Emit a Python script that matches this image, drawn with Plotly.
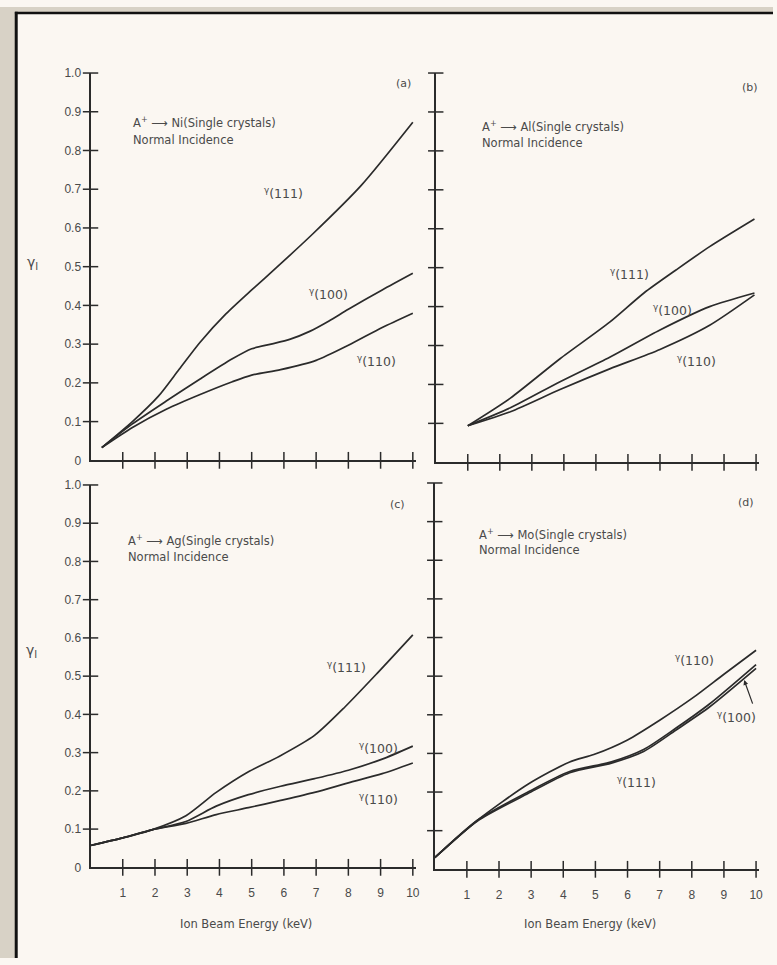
import plotly.graph_objects as go

W, H = 777, 965

# ---------------- data ----------------
energy_ticks = [1, 2, 3, 4, 5, 6, 7, 8, 9, 10]
energy_tick_labels = ["1", "2", "3", "4", "5", "6", "7", "8", "9", "10"]
gamma_ticks = [0.0, 0.1, 0.2, 0.3, 0.4, 0.5, 0.6, 0.7, 0.8, 0.9, 1.0]
gamma_tick_labels = ["0", "0.1", "0.2", "0.3", "0.4", "0.5", "0.6", "0.7", "0.8", "0.9", "1.0"]

# (a) A+ -> Ni
ni_e111 = [0.35, 1.3, 2.1, 2.75, 3.4, 4.2, 5.0, 5.8, 6.9, 8.4, 10.0]
ni_g111 = [0.033, 0.10, 0.165, 0.235, 0.305, 0.378, 0.44, 0.50, 0.585, 0.71, 0.873]
ni_e100 = [0.35, 1.3, 2.35, 3.4, 4.4, 5.0, 5.6, 6.2, 6.8, 7.4, 8.0, 9.05, 10.0]
ni_g100 = [0.033, 0.094, 0.153, 0.21, 0.262, 0.288, 0.30, 0.313, 0.333, 0.36, 0.39, 0.44, 0.483]
ni_e110 = [0.35, 1.3, 2.35, 3.4, 4.4, 5.0, 5.9, 7.0, 8.0, 9.05, 10.0]
ni_g110 = [0.033, 0.085, 0.132, 0.17, 0.203, 0.22, 0.234, 0.258, 0.297, 0.343, 0.38]

# (b) A+ -> Al
al_e111 = [1.0, 2.33, 3.88, 5.43, 6.5, 7.5, 8.55, 9.95]
al_g111 = [0.094, 0.165, 0.266, 0.36, 0.435, 0.494, 0.554, 0.625]
al_e100 = [1.0, 2.33, 3.88, 5.43, 7.0, 8.55, 9.95]
al_g100 = [0.094, 0.14, 0.207, 0.27, 0.34, 0.40, 0.435]
al_e110 = [1.0, 2.33, 3.88, 5.43, 7.0, 8.55, 9.95]
al_g110 = [0.094, 0.13, 0.187, 0.24, 0.29, 0.352, 0.43]

# (c) A+ -> Ag
ag_e111 = [0.0, 1.0, 1.9, 2.96, 3.9, 4.9, 5.85, 6.95, 7.9, 8.9, 10.0]
ag_g111 = [0.057, 0.077, 0.098, 0.135, 0.196, 0.25, 0.29, 0.345, 0.42, 0.508, 0.608]
ag_e100 = [0.0, 1.0, 1.9, 2.96, 3.9, 4.9, 5.9, 6.95, 8.0, 9.05, 10.0]
ag_g100 = [0.057, 0.077, 0.098, 0.12, 0.16, 0.19, 0.212, 0.232, 0.254, 0.283, 0.317]
ag_e110 = [0.0, 1.0, 1.9, 2.96, 3.9, 4.9, 5.9, 6.95, 8.0, 9.05, 10.0]
ag_g110 = [0.057, 0.077, 0.098, 0.115, 0.138, 0.156, 0.175, 0.196, 0.221, 0.245, 0.273]

# (d) A+ -> Mo
mo_e110 = [0.0, 1.33, 2.9, 4.2, 4.95, 6.0, 7.0, 8.05, 9.0, 10.0]
mo_g110 = [0.03, 0.127, 0.22, 0.278, 0.297, 0.335, 0.386, 0.445, 0.505, 0.567]
mo_e100 = [0.0, 1.33, 2.9, 4.2, 5.5, 6.5, 7.5, 8.55, 10.0]
mo_g100 = [0.03, 0.127, 0.20, 0.253, 0.278, 0.31, 0.365, 0.428, 0.53]
mo_e111 = [0.0, 1.33, 2.9, 4.2, 5.5, 6.5, 7.5, 8.55, 10.0]
mo_g111 = [0.03, 0.125, 0.196, 0.25, 0.275, 0.305, 0.36, 0.42, 0.52]

# ---------------- styling ----------------
PAGE = "#fbf7f2"
EDGE = "#d8d2c6"
INK = "#2b2b2b"
TXT = "#4a4a4a"
NUM_FONT = "Liberation Sans"
TEXT_FONT = "DejaVu Sans"


def fx(p):
    return p / W


def fy(p):
    return 1 - p / H


# panel frames in pixels: (x of E=0, x end, y of gamma=0, y of gamma=1)
panels = {
    "": (91, 418.2, 460, 67),
    "2": (438, 763.2, 462, 67),
    "3": (91, 418.2, 873, 485),
    "4": (437, 763.2, 875, 483),
}

series = {
    "": [(ni_e111, ni_g111), (ni_e100, ni_g100), (ni_e110, ni_g110)],
    "2": [(al_e111, al_g111), (al_e100, al_g100), (al_e110, al_g110)],
    "3": [(ag_e111, ag_g111), (ag_e100, ag_g100), (ag_e110, ag_g110)],
    "4": [(mo_e110, mo_g110), (mo_e100, mo_g100), (mo_e111, mo_g111)],
}

fig = go.Figure()
layout = dict(
    width=W, height=H,
    margin=dict(l=0, r=0, t=0, b=0),
    paper_bgcolor=PAGE, plot_bgcolor="rgba(0,0,0,0)",
    showlegend=False,
    font=dict(family=TEXT_FONT, color=TXT, size=12),
)

for key, (x0, x1, y0, y1) in panels.items():
    xa, ya = "x" + key, "y" + key
    show_x_labels = key in ("3", "4")
    show_y_labels = key in ("", "3")
    layout["xaxis" + key] = dict(
        domain=[fx(x0), fx(x1)], range=[0, 10.1], anchor=ya,
        showline=True, linecolor=INK, linewidth=2, showgrid=False, zeroline=False,
        ticks="", tickvals=energy_ticks, ticktext=energy_tick_labels,
        showticklabels=show_x_labels, ticklabelstandoff=13,
        tickfont=dict(family=NUM_FONT, size=12, color=TXT), fixedrange=True,
    )
    layout["yaxis" + key] = dict(
        domain=[fy(y0), fy(y1)], range=[0, 1.0], anchor=xa,
        showline=True, linecolor=INK, linewidth=2, showgrid=False, zeroline=False,
        ticks="", tickvals=gamma_ticks, ticktext=gamma_tick_labels,
        showticklabels=show_y_labels, ticklabelstandoff=5,
        tickfont=dict(family=NUM_FONT, size=12, color=TXT), fixedrange=True,
    )
    # crossing tick marks on both axes
    fig.add_trace(go.Scatter(
        x=energy_ticks, y=[0] * len(energy_ticks), xaxis=xa, yaxis=ya,
        mode="markers", cliponaxis=False, hoverinfo="skip",
        marker=dict(symbol="line-ns", size=12, line=dict(width=1.5, color=INK)),
    ))
    fig.add_trace(go.Scatter(
        x=[0] * (len(gamma_ticks) - 1), y=gamma_ticks[1:], xaxis=xa, yaxis=ya,
        mode="markers", cliponaxis=False, hoverinfo="skip",
        marker=dict(symbol="line-ew", size=11, line=dict(width=1.5, color=INK)),
    ))
    for e, g in series[key]:
        fig.add_trace(go.Scatter(
            x=e, y=g, xaxis=xa, yaxis=ya, mode="lines", cliponaxis=False,
            line=dict(shape="spline", smoothing=0.7, color=INK, width=1.7),
        ))

fig.update_layout(**layout)

# page edge and frame lines
shapes = [
    dict(type="rect", xref="paper", yref="paper", x0=0, x1=fx(15), y0=0, y1=1,
         fillcolor=EDGE, line=dict(width=0), layer="below"),
    dict(type="rect", xref="paper", yref="paper", x0=0, x1=1, y0=fy(5), y1=1,
         fillcolor=EDGE, line=dict(width=0), layer="below"),
    dict(type="line", xref="paper", yref="paper", x0=fx(16.3), x1=fx(16.3), y0=0, y1=fy(4.8),
         line=dict(color="#111", width=3)),
    dict(type="line", xref="paper", yref="paper", x0=fx(15), x1=1, y0=fy(6.2), y1=fy(6.2),
         line=dict(color="#111", width=2.5)),
]
fig.update_layout(shapes=shapes)


def note(text, x, y, size=12, xanchor="center", yanchor="middle"):
    return dict(text=text, x=fx(x), y=fy(y), xref="paper", yref="paper",
                showarrow=False, xanchor=xanchor, yanchor=yanchor,
                font=dict(family=TEXT_FONT, size=size, color=TXT))


g111 = "<sup>γ</sup>(111)"
g100 = "<sup>γ</sup>(100)"
g110 = "<sup>γ</sup>(110)"
LBL = 12.5
HEAD = 11.5

annotations = [
    # panel tags
    note("(a)", 406, 78, 11), note("(b)", 754, 82, 11),
    note("(c)", 400, 505, 11), note("(d)", 750, 503, 11),
    # headings
    note("A<sup>+</sup> ⟶ Ni(Single crystals)", 132, 117, HEAD, xanchor="left"),
    note("Normal Incidence", 132, 135, HEAD, xanchor="left"),
    note("A<sup>+</sup> ⟶ Al(Single crystals)", 482, 121, HEAD, xanchor="left"),
    note("Normal Incidence", 482, 138, HEAD, xanchor="left"),
    note("A<sup>+</sup> ⟶ Ag(Single crystals)", 127, 541, HEAD, xanchor="left"),
    note("Normal Incidence", 127, 558, HEAD, xanchor="left"),
    note("A<sup>+</sup> ⟶ Mo(Single crystals)", 479, 535, HEAD, xanchor="left"),
    note("Normal Incidence", 479, 551, HEAD, xanchor="left"),
    # y titles
    note("γ<sub>I</sub>", 33, 260, 14), note("γ<sub>I</sub>", 32, 653, 14),
    # x titles
    note("Ion Beam Energy (keV)", 247, 930, 11.5), note("Ion Beam Energy (keV)", 593, 930, 11.5),
    # curve labels
    note(g111, 285, 189, LBL), note(g100, 330, 291, LBL), note(g110, 378, 359, LBL),
    note(g111, 633, 271, LBL), note(g100, 676, 307, LBL), note(g110, 700, 359, LBL),
    note(g111, 348, 670, LBL), note(g100, 380, 752, LBL), note(g110, 380, 804, LBL),
    note(g110, 698, 663, LBL), note(g100, 740, 720, LBL), note(g111, 640, 786, LBL),
    # pointer to the (100) curve in (d)
    dict(x=fx(748), y=fy(683), xref="paper", yref="paper", text="", showarrow=True,
         ax=9, ay=25, arrowhead=2, arrowsize=0.8, arrowwidth=1.2, arrowcolor=INK),
]
fig.update_layout(annotations=annotations)

fig.write_html("out.html")
